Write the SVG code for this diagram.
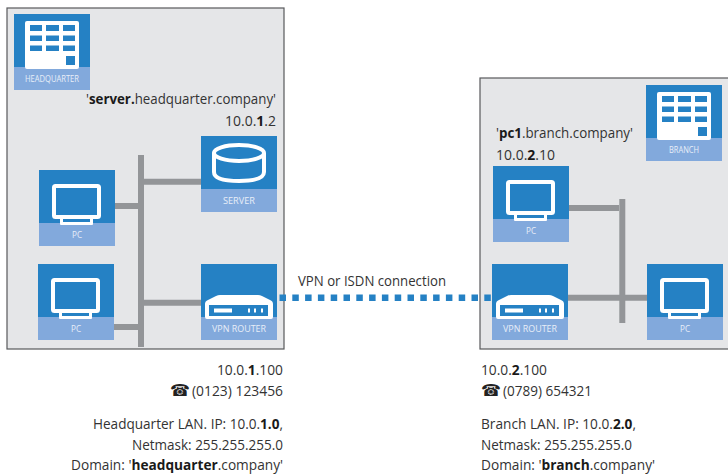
<svg xmlns="http://www.w3.org/2000/svg" xmlns:xlink="http://www.w3.org/1999/xlink" width="728" height="474" viewBox="0 0 728 474">
<style>
.t{font-family:"Open Sans","Noto Sans",sans-serif;font-size:14px;fill:#333}
.b{font-weight:700;fill:#1a1a1a}
.p{font-family:"DejaVu Sans",sans-serif;font-size:16px;fill:#222}
.l{font-family:"Open Sans","Noto Sans",sans-serif;font-size:9.500px;fill:#e8eef8;text-anchor:middle}
.panel{fill:#e5e6e8;stroke:#58595b;stroke-width:1.2}
.blue{fill:#2581c4}
.band{fill:#82a9dc}
.ico{fill:none;stroke:#fff;stroke-width:4;stroke-linejoin:round}
.w{fill:#fff}
.link{stroke:#939598;stroke-width:6;fill:none}
</style>
<defs>
<g id="box"><rect class="blue" width="76" height="76"/><rect class="band" y="53" width="76" height="23"/></g>
<g id="building"><rect class="w" x="11" y="7" width="54" height="48" rx="2"/><g class="blue"><rect x="16" y="11" width="12" height="6"/><rect x="32" y="11" width="13" height="6"/><rect x="49" y="11" width="12" height="6"/><rect x="16" y="21.500" width="12" height="5.500"/><rect x="32" y="21.500" width="13" height="5.500"/><rect x="49" y="21.500" width="12" height="5.500"/><rect x="16" y="31.500" width="12" height="5.500"/><rect x="32" y="31.500" width="13" height="5.500"/><rect x="49" y="31.500" width="12" height="5.500"/><rect x="52" y="42" width="9" height="9"/></g></g>
<g id="monitor"><rect class="ico" x="15" y="16" width="45" height="31" rx="1.500"/><rect class="w" x="21" y="48" width="33" height="7" rx="1"/><rect class="blue" x="24" y="49" width="27" height="3"/></g>
<g id="router"><path class="w" d="M4 53v-13q0-3 3-4l8-4q2-1 4-1h38q2 0 4 1l8 4q3 1 3 4v13q0 2-2 2H6q-2 0-2-2z"/><rect class="blue" x="8" y="41" width="59" height="11"/><rect class="w" x="13" y="44.500" width="18" height="4"/><rect class="w" x="47" y="44.500" width="2" height="4"/><rect class="w" x="53" y="44.500" width="2" height="4"/><rect class="w" x="60" y="44.500" width="2" height="4"/></g>
</defs>
<rect class="panel" x="7" y="8" width="277" height="341"/>
<rect class="panel" x="480" y="78" width="260" height="271"/>
<g id="connectors">
<path class="link" d="M141 155V347M144 181.700H201M115 206H138M114 327H138M144 302.700H201"/>
<path class="link" d="M622.300 199V323M568 297.700H647M569 208H619"/>
<path d="M279.500 297.700H492" fill="none" stroke="#2581c4" stroke-width="6.500" stroke-dasharray="6.500 6.300"/>
</g>
<g id="hq"><use xlink:href="#box" x="14" y="14"/><use xlink:href="#building" x="14" y="14"/><text class="l" x="52" y="82" textLength="54" lengthAdjust="spacingAndGlyphs">HEADQUARTER</text></g>
<g id="server"><use xlink:href="#box" x="201" y="136"/><g class="ico"><path d="M214 153v19q0 9 25 9t25-9v-19"/><ellipse cx="239" cy="153" rx="25" ry="8"/></g><text class="l" x="239" y="204" textLength="32" lengthAdjust="spacingAndGlyphs">SERVER</text></g>
<g id="pc-a"><use xlink:href="#box" x="39" y="170"/><use xlink:href="#monitor" x="39" y="170"/><text class="l" x="77" y="238" textLength="10" lengthAdjust="spacingAndGlyphs">PC</text></g>
<g id="pc-b"><use xlink:href="#box" x="38" y="264"/><use xlink:href="#monitor" x="38" y="264"/><text class="l" x="76" y="332" textLength="10" lengthAdjust="spacingAndGlyphs">PC</text></g>
<g id="router-hq"><use xlink:href="#box" x="201" y="264"/><use xlink:href="#router" x="201" y="264"/><text class="l" x="239" y="332" textLength="54" lengthAdjust="spacingAndGlyphs">VPN ROUTER</text></g>
<g id="branch"><use xlink:href="#box" x="646" y="85"/><use xlink:href="#building" x="646" y="85"/><text class="l" x="684" y="153" textLength="30" lengthAdjust="spacingAndGlyphs">BRANCH</text></g>
<g id="pc-c"><use xlink:href="#box" x="493" y="166"/><use xlink:href="#monitor" x="493" y="166"/><text class="l" x="531" y="234" textLength="10" lengthAdjust="spacingAndGlyphs">PC</text></g>
<g id="router-br"><use xlink:href="#box" x="492" y="264"/><use xlink:href="#router" x="492" y="264"/><text class="l" x="530" y="332" textLength="54" lengthAdjust="spacingAndGlyphs">VPN ROUTER</text></g>
<g id="pc-d"><use xlink:href="#box" x="647" y="264"/><use xlink:href="#monitor" x="647" y="264"/><text class="l" x="685" y="332" textLength="10" lengthAdjust="spacingAndGlyphs">PC</text></g>
<text class="t" x="86" y="104" textLength="190" lengthAdjust="spacingAndGlyphs">'<tspan class="b">server.</tspan>headquarter.company'</text>
<text class="t" x="225" y="126" textLength="51" lengthAdjust="spacingAndGlyphs">10.0.<tspan class="b">1</tspan>.2</text>
<text class="t" x="496" y="138" textLength="137" lengthAdjust="spacingAndGlyphs">'<tspan class="b">pc1</tspan>.branch.company'</text>
<text class="t" x="496" y="160" textLength="59" lengthAdjust="spacingAndGlyphs">10.0.<tspan class="b">2</tspan>.10</text>
<text class="t" x="298" y="286" textLength="148" lengthAdjust="spacingAndGlyphs">VPN or ISDN connection</text>
<text class="t" x="217" y="375" textLength="66" lengthAdjust="spacingAndGlyphs">10.0.<tspan class="b">1</tspan>.100</text>
<text class="p" x="170" y="396">☎</text>
<text class="t" x="192" y="396" textLength="91" lengthAdjust="spacingAndGlyphs">(0123) 123456</text>
<text class="t" x="93" y="429" textLength="190" lengthAdjust="spacingAndGlyphs">Headquarter LAN. IP: 10.0.<tspan class="b">1.0</tspan>,</text>
<text class="t" x="132" y="450" textLength="151" lengthAdjust="spacingAndGlyphs">Netmask: 255.255.255.0</text>
<text class="t" x="71" y="470" textLength="212" lengthAdjust="spacingAndGlyphs">Domain: '<tspan class="b">headquarter</tspan>.company'</text>
<text class="t" x="481" y="375" textLength="66" lengthAdjust="spacingAndGlyphs">10.0.<tspan class="b">2</tspan>.100</text>
<text class="p" x="481" y="396">☎</text>
<text class="t" x="503" y="396" textLength="89" lengthAdjust="spacingAndGlyphs">(0789) 654321</text>
<text class="t" x="481" y="429" textLength="155" lengthAdjust="spacingAndGlyphs">Branch LAN. IP: 10.0.<tspan class="b">2.0</tspan>,</text>
<text class="t" x="481" y="450" textLength="151" lengthAdjust="spacingAndGlyphs">Netmask: 255.255.255.0</text>
<text class="t" x="481" y="470" textLength="174" lengthAdjust="spacingAndGlyphs">Domain: '<tspan class="b">branch</tspan>.company'</text>
</svg>
